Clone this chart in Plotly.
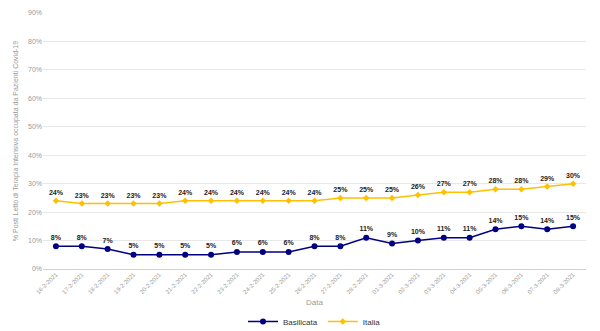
import plotly.graph_objects as go

dates = ["16-2-2021", "17-2-2021", "18-2-2021", "19-2-2021", "20-2-2021", "21-2-2021",
         "22-2-2021", "23-2-2021", "24-2-2021", "25-2-2021", "26-2-2021", "27-2-2021",
         "28-2-2021", "01-3-2021", "02-3-2021", "03-3-2021", "04-3-2021", "05-3-2021",
         "06-3-2021", "07-3-2021", "08-3-2021"]
basilicata = [8, 8, 7, 5, 5, 5, 5, 6, 6, 6, 8, 8, 11, 9, 10, 11, 11, 14, 15, 14, 15]
italia = [24, 23, 23, 23, 23, 24, 24, 24, 24, 24, 24, 25, 25, 25, 26, 27, 27, 28, 28, 29, 30]

lab_font = dict(family="Liberation Sans, Arial", size=7, color="#222222")

fig = go.Figure()
fig.add_trace(go.Scatter(
    x=dates, y=basilicata, name="Basilicata", mode="lines+markers+text",
    line=dict(color="#000080", width=1.5),
    marker=dict(color="#000080", size=6, symbol="circle"),
    text=[f"<b>{v}%</b>" for v in basilicata], textposition="top center",
    textfont=lab_font, cliponaxis=False,
))
fig.add_trace(go.Scatter(
    x=dates, y=italia, name="Italia", mode="lines+markers+text",
    line=dict(color="#FFC000", width=1.5),
    marker=dict(color="#FFC000", size=5, symbol="diamond"),
    text=[f"<b>{v}%</b>" for v in italia], textposition="top center",
    textfont=lab_font, cliponaxis=False,
))

fig.update_layout(
    width=600, height=331,
    margin=dict(l=43, r=14, t=13, b=62, autoexpand=False),
    paper_bgcolor="white", plot_bgcolor="white",
    font=dict(family="Liberation Sans, Arial", color="#888888"),
    showlegend=True,
    legend=dict(orientation="h", x=0.5, xanchor="center", y=-0.205, yanchor="middle",
                font=dict(size=8, color="#333333"), itemwidth=30),
    xaxis=dict(
        type="category", range=[-0.5, 20.5], tickangle=-45,
        tickfont=dict(size=6, color="#999999"), showgrid=False,
        showline=False, ticks="", automargin=False,
    ),
    yaxis=dict(
        range=[0, 90], dtick=10, ticksuffix="%",
        tickfont=dict(size=7, color="#999999"),
        gridcolor="#e8e8e8", gridwidth=1,
        zeroline=True, zerolinecolor="#d0d0e0", zerolinewidth=1,
        automargin=False,
        title=dict(text="% Posti Letto di Terapia Intensiva occupata da Pazienti Covid-19",
                   font=dict(size=7, color="#999999"), standoff=8),
    ),
    annotations=[dict(text="Data", x=0.5, y=-0.13, xref="paper", yref="paper",
                      showarrow=False, yanchor="middle",
                      font=dict(size=8, color="#999999"))],
)

fig.write_html("out.html")
